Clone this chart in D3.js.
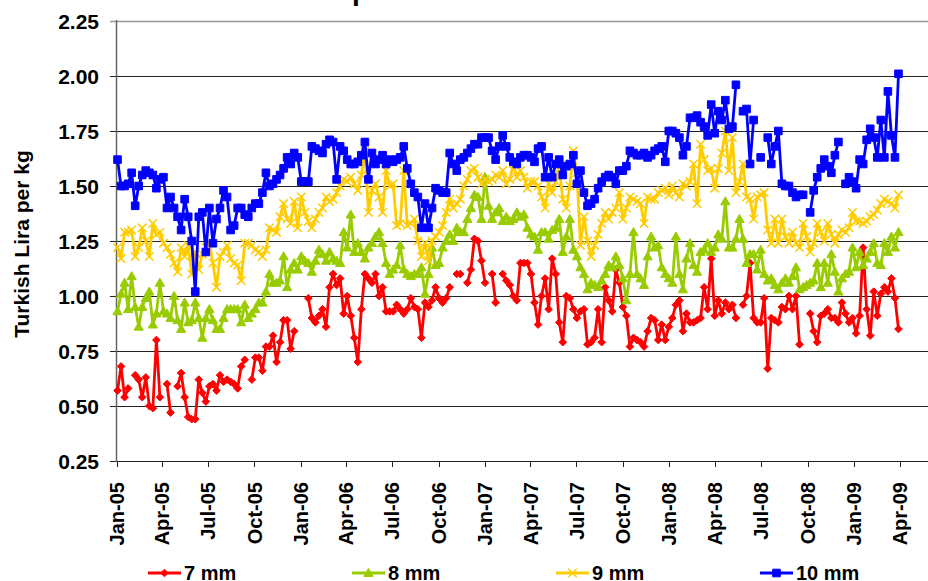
<!DOCTYPE html>
<meta charset="utf-8">
<style>

    body {
        margin: 0;
        background: #fff;
    }

    svg {
        display: block;
        font-family: Arial, "Liberation Sans", sans-serif;
        font-weight: bold;
    }

</style>
<body>
<div id="plotarea">
</div>

<script src="https://cdn.jsdelivr.net/npm/d3@7"></script>
<script>

    // weekly prices, first week starts 3 Jan 2005, null = no quote that week
    var firstWeek = new Date(2005, 0, 3);

    var seriesNames = ["7 mm", "8 mm", "9 mm", "10 mm"];

    var yTickValues = [0.25, 0.50, 0.75, 1.00, 1.25, 1.50, 1.75, 2.00, 2.25];

    var mm7 = [
        0.57,0.68,0.54,0.58,null,0.64,0.62,0.54,0.63,0.50,
        0.49,0.80,0.54,null,0.60,0.47,null,0.59,0.65,0.54,
        0.45,0.44,0.44,0.62,0.56,0.52,0.59,0.60,0.57,0.64,
        0.61,0.62,0.61,0.60,0.58,0.68,0.71,null,0.62,0.72,
        0.72,0.66,0.77,0.77,0.82,0.70,0.79,0.89,0.89,0.76,
        0.84,null,null,null,0.99,0.90,0.88,0.91,0.94,0.86,
        1.04,1.10,1.05,1.08,0.92,1.00,0.91,0.81,0.70,0.94,
        1.10,1.08,1.06,1.10,1.00,1.04,0.93,0.93,0.93,0.96,
        0.94,0.92,0.94,0.99,0.95,0.94,0.81,0.97,0.95,0.98,
        1.04,0.99,0.97,0.99,1.04,null,1.10,1.10,null,1.06,
        1.12,1.26,1.25,1.16,1.06,null,1.10,0.97,null,1.10,
        1.07,1.05,1.00,0.98,1.15,1.15,1.15,1.10,0.97,0.87,
        1.00,1.08,0.94,1.17,1.10,0.88,0.79,1.00,0.99,0.94,
        0.90,0.93,0.94,0.78,0.79,0.81,0.94,0.79,1.04,0.98,
        0.93,1.12,1.06,0.95,0.91,0.77,0.81,0.80,0.79,0.77,
        0.84,0.90,0.89,0.80,0.87,0.80,0.86,0.90,0.96,0.98,
        0.84,0.92,0.88,0.88,0.89,0.90,1.04,0.94,1.17,0.91,
        0.98,0.92,0.97,0.94,0.96,0.90,null,0.96,1.00,1.15,
        0.90,0.88,0.88,0.99,0.67,0.90,0.89,0.88,0.95,0.94,
        1.00,0.94,1.00,0.78,null,null,0.92,0.84,0.79,0.91,
        0.92,0.94,0.90,0.90,0.88,0.97,0.92,0.88,0.90,0.83,
        0.91,1.22,0.94,0.82,1.02,0.91,1.01,1.04,1.02,1.08,
        0.99,0.85
    ];

    var mm8 = [
        0.93,1.01,1.06,0.94,1.09,0.95,0.86,0.95,0.99,1.02,
        0.87,0.92,1.06,0.93,0.92,0.90,1.00,0.89,0.85,0.97,
        0.88,0.89,0.97,0.90,0.81,0.90,0.94,0.89,0.85,0.85,
        0.90,0.94,0.94,0.94,0.94,0.88,0.96,0.90,0.92,0.94,
        0.97,0.97,1.02,1.10,1.06,1.06,1.07,1.18,1.04,1.12,
        1.15,1.12,1.18,1.16,1.15,1.11,1.16,1.21,1.19,1.16,
        1.20,1.17,1.16,1.15,1.29,1.22,1.37,1.20,1.24,1.20,
        1.17,1.22,1.24,1.27,1.29,1.24,1.15,1.10,1.12,1.14,
        1.23,1.12,1.10,1.09,1.10,1.10,1.13,1.01,1.10,1.22,
        1.14,1.15,1.22,1.25,1.28,1.25,1.31,1.29,1.29,1.35,
        1.40,1.46,1.45,1.35,1.54,1.41,1.35,1.38,1.40,1.34,
        1.36,1.34,1.35,1.38,1.36,1.37,1.31,1.28,1.27,1.21,
        1.29,1.29,1.26,1.30,1.31,1.35,1.20,1.27,1.35,1.21,
        1.18,1.13,1.10,1.03,1.06,1.05,1.04,1.07,1.10,1.14,
        1.13,1.18,1.14,1.08,0.98,1.10,1.29,1.10,1.08,1.05,
        1.18,1.27,1.22,1.23,1.13,1.10,1.08,1.06,1.27,1.10,
        1.03,1.17,1.24,1.14,1.11,1.20,1.21,1.24,1.20,1.22,
        1.28,1.26,1.43,1.22,1.22,1.26,1.35,1.26,1.15,1.19,
        1.19,1.12,1.21,1.10,1.07,1.08,1.05,1.03,1.06,1.08,
        1.06,1.09,1.13,1.03,1.04,1.05,1.06,1.07,1.15,1.04,
        1.15,1.06,1.19,1.11,1.02,1.08,1.10,1.11,1.22,1.13,
        1.20,1.14,1.17,1.20,1.24,1.15,1.14,1.24,1.20,1.27,
        1.22,1.29
    ];

    var mm9 = [
        1.22,1.17,1.29,1.29,1.30,1.18,1.22,1.31,1.25,1.18,
        1.33,1.28,1.29,1.24,1.22,1.19,1.15,1.11,1.22,1.18,
        1.23,1.10,1.20,1.12,1.19,1.22,1.24,1.15,1.04,1.18,
        1.20,1.23,1.17,1.15,1.14,1.07,1.24,1.24,1.23,1.21,
        1.20,1.18,1.21,1.31,1.30,1.29,1.36,1.42,1.35,1.33,
        1.43,1.31,1.45,1.38,1.34,1.31,1.35,1.38,1.40,1.45,
        1.43,1.44,1.47,1.50,1.53,1.52,1.54,1.51,1.48,1.55,
        1.66,1.38,1.48,1.51,1.45,1.38,1.57,1.50,1.51,1.32,
        1.33,1.57,1.32,1.33,1.35,1.25,1.18,1.24,1.16,1.25,
        1.27,1.29,1.32,1.38,1.44,1.40,1.42,1.44,1.50,1.53,
        1.57,1.58,1.54,1.51,1.53,1.52,1.53,1.55,1.54,1.57,
        1.51,1.53,1.60,1.54,1.57,1.54,1.49,1.52,1.52,1.50,
        1.45,1.40,1.51,1.47,1.52,1.58,1.44,1.40,1.50,1.66,
        1.56,1.23,1.36,1.25,1.18,1.23,1.28,1.33,1.38,1.35,
        1.38,1.40,1.47,1.35,1.40,1.45,1.44,1.43,1.42,1.33,
        1.45,1.44,1.44,1.47,1.48,1.49,1.46,1.50,1.47,1.45,
        1.51,1.50,1.52,1.60,1.42,1.69,1.62,1.57,1.58,1.49,
        1.58,1.65,1.75,1.57,1.72,1.47,1.52,1.60,1.45,1.44,
        1.35,1.45,1.46,1.47,1.30,1.24,1.35,1.24,1.35,1.27,
        1.24,1.29,1.24,1.22,1.33,1.27,1.20,1.24,1.33,1.29,
        1.25,1.33,1.28,1.24,1.28,1.30,1.29,1.31,1.38,1.34,
        1.34,1.33,1.34,1.36,1.37,1.39,1.42,1.44,1.43,1.42,
        1.40,1.46
    ];

    var mm10 = [
        1.62,1.50,1.50,1.51,1.56,1.41,1.50,1.55,1.57,1.56,
        1.55,1.49,1.53,1.54,1.40,1.45,1.40,1.36,1.30,1.44,
        1.36,1.25,1.02,1.36,1.38,1.20,1.40,1.24,1.35,1.40,
        1.48,1.45,1.30,1.32,1.40,1.40,1.37,1.36,1.40,1.42,
        1.42,1.47,1.56,1.50,1.51,1.53,1.55,1.58,1.63,1.60,
        1.65,1.63,1.52,1.52,1.52,1.68,1.67,1.66,1.65,1.69,
        1.71,1.70,1.53,1.68,1.66,1.62,1.60,1.60,1.61,1.64,
        1.70,1.53,1.65,1.60,1.62,1.64,1.60,1.62,1.61,1.62,
        1.63,1.68,1.58,1.51,1.47,1.45,1.31,1.42,1.31,1.40,
        1.49,1.48,1.47,1.47,1.65,1.60,1.57,1.62,1.63,1.65,
        1.67,1.69,1.69,1.72,1.72,1.72,1.66,1.62,1.68,1.73,
        1.68,1.63,1.61,1.60,1.63,1.64,1.64,1.63,1.61,1.67,
        1.68,1.54,1.63,1.54,1.60,1.62,1.55,1.59,1.60,1.64,
        1.51,1.57,1.47,1.41,1.42,1.44,1.49,1.52,1.54,1.55,
        1.54,1.51,1.57,1.57,1.59,1.66,1.65,1.64,1.64,1.65,
        1.63,1.64,1.66,1.67,1.68,1.61,1.75,1.75,1.74,1.72,
        1.64,1.68,1.81,1.81,1.82,1.79,1.77,1.73,1.87,1.74,
        1.84,1.80,1.89,1.76,1.77,1.96,null,1.84,1.85,1.60,
        1.80,null,1.63,null,1.72,1.60,1.68,1.75,1.51,1.50,
        1.50,1.47,1.45,1.46,1.46,null,1.38,1.48,1.54,1.58,
        1.62,1.59,1.56,1.64,1.70,null,1.51,1.54,1.52,1.49,
        1.62,1.60,1.71,1.76,1.72,1.63,1.80,1.63,1.93,1.73,
        1.63,2.01
    ];

    var width = 928,
        height = 581;

    var x = d3.scaleTime()
            .domain([new Date(2005, 0, 1), new Date(2009, 3, 1)])
            .range([116.5, 899.5]);

    var y = d3.scaleLinear()
            .domain([0.25, 2.25])
            .range([461, 21]);

    var formatMonth = d3.timeFormat("%b-%y");
    var quarters = d3.timeMonth.range(new Date(2005, 0, 1), new Date(2009, 3, 2), 3);

    var markers = {
        diamond: "M0,-3.8L3.8,0L0,3.8L-3.8,0Z",
        triangle: "M0,-4.6L4.6,3.4L-4.6,3.4Z",
        cross: "M-4.2,-4.2L4.2,4.2M-4.2,4.2L4.2,-4.2",
        square: "M-3.8,-3.8H3.8V3.8H-3.8Z"
    };

    var series = [
        {name: seriesNames[0], color: "#ff0000", marker: "diamond", values: mm7},
        {name: seriesNames[1], color: "#99cc00", marker: "triangle", values: mm8},
        {name: seriesNames[2], color: "#ffcc00", marker: "cross", values: mm9},
        {name: seriesNames[3], color: "#0000ff", marker: "square", values: mm10}
    ];

    series.forEach(function(s) {
        s.points = s.values.map(function(v, i) {
            return {date: d3.timeDay.offset(firstWeek, 7 * i), v: v};
        });
    });

    var svg = d3.select("#plotarea").append("svg")
            .attr("width", width)
            .attr("height", height);

    // title sits mostly above the visible frame
    svg.append("text")
            .attr("x", 231)
            .attr("y", 0)
            .style("font-size", "28px")
            .text("Wire rod prices");

    // gridlines
    svg.append("g").selectAll("line")
            .data(yTickValues)
            .enter().append("line")
            .attr("x1", 110)
            .attr("x2", width)
            .attr("y1", function(d) { return Math.round(y(d)) + 0.5; })
            .attr("y2", function(d) { return Math.round(y(d)) + 0.5; })
            .attr("stroke", function(d) { return d === 2.25 ? "#999" : "#222"; })
            .attr("stroke-width", function(d) { return d === 2.25 ? 1.5 : 1; });

    // y labels
    svg.append("g").selectAll("text")
            .data(yTickValues)
            .enter().append("text")
            .attr("x", 99)
            .attr("y", function(d) { return y(d); })
            .attr("dy", "0.36em")
            .attr("text-anchor", "end")
            .style("font-size", "21px")
            .text(function(d) { return d.toFixed(2); });

    svg.append("text")
            .attr("transform", "translate(29,244) rotate(-90)")
            .attr("text-anchor", "middle")
            .style("font-size", "21px")
            .text("Turkish Lira per kg");

    // x ticks and labels
    svg.append("g").selectAll("line")
            .data(quarters)
            .enter().append("line")
            .attr("x1", function(d) { return Math.round(x(d)) + 0.5; })
            .attr("x2", function(d) { return Math.round(x(d)) + 0.5; })
            .attr("y1", 461)
            .attr("y2", 467)
            .attr("stroke", "#222");

    svg.append("g").selectAll("text")
            .data(quarters)
            .enter().append("text")
            .attr("transform", function(d) { return "translate(" + x(d) + ",482) rotate(-90)"; })
            .attr("dy", "0.36em")
            .attr("text-anchor", "end")
            .style("font-size", "20px")
            .text(function(d) { return formatMonth(d); });

    svg.append("line")
            .attr("x1", 116.5)
            .attr("x2", 116.5)
            .attr("y1", 20)
            .attr("y2", 462)
            .attr("stroke", "#666")
            .attr("stroke-width", 1.5);

    var line = d3.line()
            .defined(function(d) { return d.v !== null; })
            .x(function(d) { return x(d.date); })
            .y(function(d) { return y(d.v); });

    var layer = svg.selectAll(".layer")
            .data(series)
            .enter().append("g")
            .attr("class", "layer");

    layer.append("path")
            .attr("fill", "none")
            .attr("stroke", function(d) { return d.color; })
            .attr("stroke-width", 2.8)
            .attr("stroke-linejoin", "round")
            .attr("d", function(d) { return line(d.points); });

    layer.each(function(s) {
        d3.select(this).selectAll(".mark")
                .data(s.points.filter(function(p) { return p.v !== null; }))
                .enter().append("path")
                .attr("class", "mark")
                .attr("transform", function(p) { return "translate(" + x(p.date) + "," + y(p.v) + ")"; })
                .attr("d", markers[s.marker])
                .attr("fill", s.marker === "cross" ? "none" : s.color)
                .attr("stroke", s.color)
                .attr("stroke-width", s.marker === "cross" ? 1.5 : 1);
    });

    // legend
    var legendX = [148, 352, 556, 760];

    var legend = svg.selectAll(".legend")
            .data(series)
            .enter().append("g")
            .attr("class", "legend")
            .attr("transform", function(d, i) { return "translate(" + legendX[i] + ",573)"; });

    legend.append("line")
            .attr("x1", 0)
            .attr("x2", 33)
            .attr("stroke", function(d) { return d.color; })
            .attr("stroke-width", 2.8);

    legend.append("path")
            .attr("transform", "translate(16.5,0)")
            .attr("d", function(d) { return markers[d.marker]; })
            .attr("fill", function(d) { return d.marker === "cross" ? "none" : d.color; })
            .attr("stroke", function(d) { return d.color; })
            .attr("stroke-width", function(d) { return d.marker === "cross" ? 1.5 : 1; });

    legend.append("text")
            .attr("x", 36)
            .attr("dy", "0.36em")
            .style("font-size", "20px")
            .text(function(d) { return d.name; });

</script>
